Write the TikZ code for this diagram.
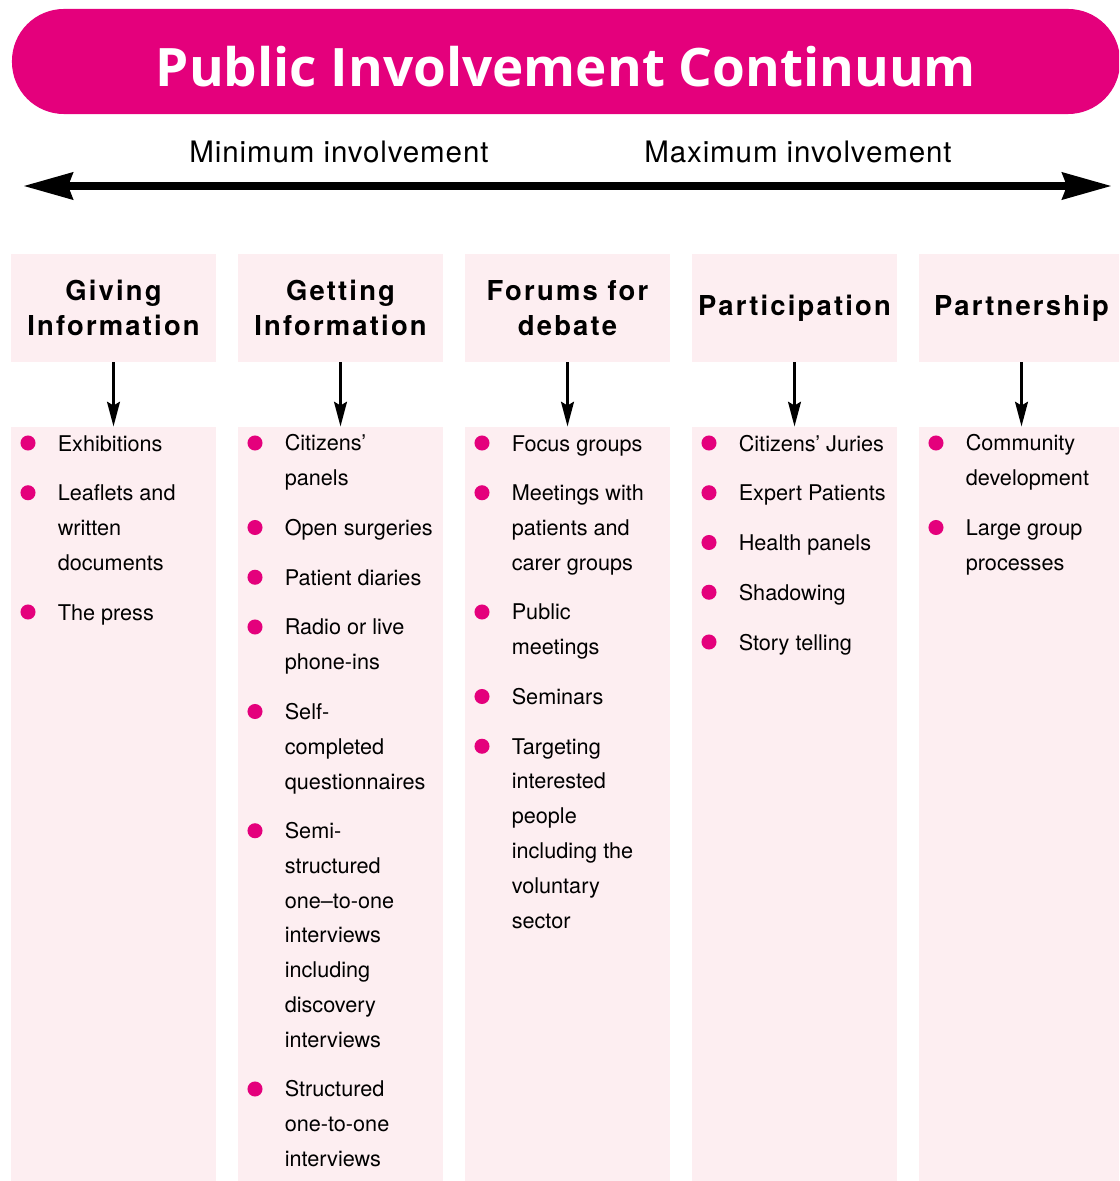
\documentclass[tikz,border=0pt]{standalone}
\usepackage{fontspec}
\setmainfont{TeX Gyre Heros}
\newfontfamily\titlefont{Open Sans}
\newfontfamily\headfont{TeX Gyre Heros}[LetterSpace=8]
\newfontfamily\scalefont{TeX Gyre Heros}[LetterSpace=3]
\usepackage{tikz}
\usetikzlibrary{arrows.meta}
\definecolor{pimagenta}{HTML}{E4007C}
\definecolor{piblush}{HTML}{FDEEF1}

\begin{document}
\begin{tikzpicture}[line cap=butt,line join=miter,x=0.025cm,y=-0.025cm,
  titlebar/.style={fill=pimagenta,rounded corners=37pt,minimum width=788pt,minimum height=74.7pt,
    inner sep=0pt,text=white,text height=35pt,text depth=0pt,
    font=\titlefont\bfseries\fontsize{37.7}{40}\selectfont},
  scalelabel/.style={anchor=base,inner sep=0pt,font=\scalefont\fontsize{21}{24}\selectfont},
  bigarrow/.style={{Stealth[length=35pt,width=18.5pt,inset=3pt]}-{Stealth[length=35pt,width=18.5pt,inset=3pt]},line width=6pt},
  headbox/.style={fill=piblush,minimum width=145.8pt,minimum height=76.8pt,inner sep=0pt,align=center,
    font=\headfont\bfseries\fontsize{19.5}{24.9}\selectfont},
  listbox/.style={fill=piblush,minimum width=145.8pt,minimum height=539.2pt,inner sep=0pt},
  down/.style={-{Stealth[length=17.5pt,width=9pt,inset=2.5pt]},line width=2.5pt},
  itemtext/.style={anchor=base west,align=left,inner sep=0pt,font=\fontsize{15.4}{24.72}\selectfont},
  dot/.style={circle,fill=pimagenta,minimum size=10.7pt,inner sep=0pt}]

\useasboundingbox (0,0) rectangle (1119,1181);
\clip (0,0) rectangle (1119,1181);

\node[titlebar] (title) at (566,61.5) {Public Involvement Continuum};

\node[scalelabel] (minlab) at (339,163) {Minimum involvement};
\node[scalelabel] (maxlab) at (798,163) {Maximum involvement};
\coordinate (minend) at (23,186);
\coordinate (maxend) at (1112,186);
\draw[bigarrow] (minend) -- (maxend);

\node[headbox] (hGive) at (113.5,308) {Giving\\Information};
\node[headbox] (hGet) at (340.5,308) {Getting\\Information};
\node[headbox] (hForum) at (567.5,308) {Forums for\\debate};
\node[headbox] (hPart) at (794.5,308) {Participation};
\node[headbox] (hShip) at (1021.5,308) {Partnership};

\node[listbox] (lGive) at (113.5,806) {};
\node[listbox] (lGet) at (340.5,806) {};
\node[listbox] (lForum) at (567.5,806) {};
\node[listbox] (lPart) at (794.5,806) {};
\node[listbox] (lShip) at (1021.5,806) {};

\draw[down] (hGive) -- (lGive);
\draw[down] (hGet) -- (lGet);
\draw[down] (hForum) -- (lForum);
\draw[down] (hPart) -- (lPart);
\draw[down] (hShip) -- (lShip);

% items: the node base is the baseline of the last line
\node[dot] (gi1dot) at (28,443) {};
\node[itemtext] (gi1) at (57.5,451) {Exhibitions};
\node[dot] (gi2dot) at (28,492.75) {};
\node[itemtext] (gi2) at (57.5,570.25) {Leaflets and\\written\\documents};
\node[dot] (gi3dot) at (28,612) {};
\node[itemtext] (gi3) at (57.5,620) {The press};

\node[dot] (ge1dot) at (255,443) {};
\node[itemtext] (ge1) at (284.5,485.75) {Citizens’\\panels};
\node[dot] (ge2dot) at (255,527.5) {};
\node[itemtext] (ge2) at (284.5,535.5) {Open surgeries};
\node[dot] (ge3dot) at (255,577.25) {};
\node[itemtext] (ge3) at (284.5,585.25) {Patient diaries};
\node[dot] (ge4dot) at (255,627) {};
\node[itemtext] (ge4) at (284.5,669.75) {Radio or live\\phone-ins};
\node[dot] (ge5dot) at (255,711.5) {};
\node[itemtext] (ge5) at (284.5,789) {Self-\\completed\\questionnaires};
\node[dot] (ge6dot) at (255,830.75) {};
\node[itemtext] (ge6) at (284.5,1047.25) {Semi-\\structured\\one–to-one\\interviews\\including\\discovery\\interviews};
\node[dot] (ge7dot) at (255,1089) {};
\node[itemtext] (ge7) at (284.5,1166.5) {Structured\\one-to-one\\interviews};

\node[dot] (fd1dot) at (482,443) {};
\node[itemtext] (fd1) at (511.5,451) {Focus groups};
\node[dot] (fd2dot) at (482,492.75) {};
\node[itemtext] (fd2) at (511.5,570.25) {Meetings with\\patients and\\carer groups};
\node[dot] (fd3dot) at (482,612) {};
\node[itemtext] (fd3) at (511.5,654.75) {Public\\meetings};
\node[dot] (fd4dot) at (482,696.5) {};
\node[itemtext] (fd4) at (511.5,704.5) {Seminars};
\node[dot] (fd5dot) at (482,746.25) {};
\node[itemtext] (fd5) at (511.5,928) {Targeting\\interested\\people\\including the\\voluntary\\sector};

\node[dot] (pa1dot) at (709,443) {};
\node[itemtext] (pa1) at (738.5,451) {Citizens’ Juries};
\node[dot] (pa2dot) at (709,492.75) {};
\node[itemtext] (pa2) at (738.5,500.75) {Expert Patients};
\node[dot] (pa3dot) at (709,542.5) {};
\node[itemtext] (pa3) at (738.5,550.5) {Health panels};
\node[dot] (pa4dot) at (709,592.25) {};
\node[itemtext] (pa4) at (738.5,600.25) {Shadowing};
\node[dot] (pa5dot) at (709,642) {};
\node[itemtext] (pa5) at (738.5,650) {Story telling};

\node[dot] (ps1dot) at (936,443) {};
\node[itemtext] (ps1) at (965.5,485.75) {Community\\development};
\node[dot] (ps2dot) at (936,527.5) {};
\node[itemtext] (ps2) at (965.5,570.25) {Large group\\processes};
\end{tikzpicture}
\end{document}
